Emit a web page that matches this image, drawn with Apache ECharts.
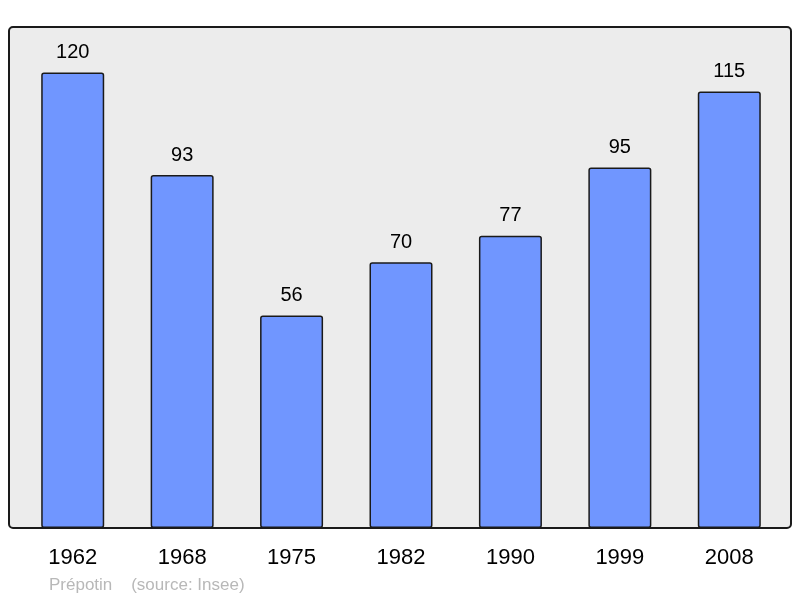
<!DOCTYPE html>
<html>
<head>
<meta charset="utf-8">
<script src="https://cdn.jsdelivr.net/npm/echarts@6/dist/echarts.min.js"></script>
<style>
  html, body { margin: 0; padding: 0; background: #fff; }
  #chart { width: 800px; height: 598px; }
</style>
</head>
<body>
<div id="chart"></div>
<script>
const years = ["1962", "1968", "1975", "1982", "1990", "1999", "2008"];
const population = [120, 93, 56, 70, 77, 95, 115];

const chart = echarts.init(document.getElementById("chart"));
const font = "Liberation Sans, Arial, sans-serif";

chart.setOption({
  animation: false,
  grid: { left: 18, right: 16, top: 27, bottom: 70 },
  graphic: [
    {
      type: "rect",
      z: -10,
      shape: { x: 9, y: 27, width: 782, height: 501, r: 4 },
      style: { fill: "#ececec", stroke: "#1a1a1a", lineWidth: 2 }
    },
    {
      type: "text",
      left: 49,
      top: 577,
      style: {
        text: "Prépotin    (source: Insee)",
        fill: "#b8b8b8",
        font: "17px " + font
      }
    }
  ],
  xAxis: {
    type: "category",
    data: years,
    axisLine: { show: false },
    axisTick: { show: false },
    axisLabel: { color: "#000", fontSize: 22, fontFamily: font, margin: 19 }
  },
  yAxis: {
    type: "value",
    min: 0,
    max: 132,
    show: false
  },
  series: [
    {
      type: "bar",
      data: population,
      barWidth: 63,
      itemStyle: {
        color: "#7096ff",
        borderColor: "#1a1a1a",
        borderWidth: 1.5,
        borderRadius: 2
      },
      label: {
        show: true,
        position: "top",
        distance: 10,
        color: "#000",
        fontSize: 20,
        fontFamily: font
      }
    }
  ]
});
</script>
</body>
</html>
